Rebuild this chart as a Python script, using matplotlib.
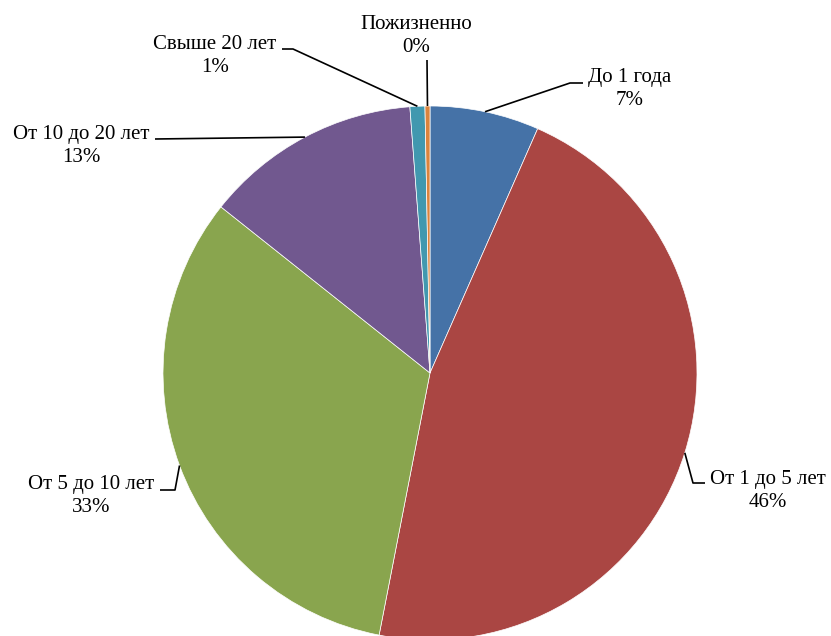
import numpy as np
import matplotlib.pyplot as plt

# shares of sentence lengths (percent)
labels = ["До 1 года", "От 1 до 5 лет", "От 5 до 10 лет", "От 10 до 20 лет", "Свыше 20 лет", "Пожизненно"]
values = [6.6, 46.4, 32.6, 13.1, 0.9, 0.3]
colors = ["#4572A7", "#AA4643", "#89A54E", "#71588F", "#4198AF", "#DB843D"]

W, H = 831, 636
cx, cy, r = 430, 373, 267

# label block centre and elbow of the leader line (pixels, y down)
label_pos = [(630, 89), (768, 491), (91, 496), (81, 146), (215, 56), (416, 36)]
elbows = [[(570, 83), (583, 83)], [(693, 483), (705, 483)], [(175, 490), (160, 490)],
          [(155, 139)], [(293, 49), (282, 49)], [(427, 60)]]

plt.rcParams['font.family'] = ['Liberation Serif', 'DejaVu Serif']

fig = plt.figure(figsize=(W / 100, H / 100), dpi=100)
ax = fig.add_axes([0, 0, 1, 1])

ax.pie(values, colors=colors, startangle=90, counterclock=False,
       center=(cx, H - cy), radius=r,
       wedgeprops=dict(edgecolor="white", linewidth=0.5))
# pie() resets the limits, so set them afterwards
ax.set_xlim(0, W)
ax.set_ylim(0, H)
ax.axis("off")

total = sum(values)
pcts = [round(v / total * 100) for v in values]
cum = np.cumsum([0] + values[:-1])
for i, lab in enumerate(labels):
    mid = (cum[i] + values[i] / 2) / total * 2 * np.pi
    ax_x = cx + r * np.sin(mid)
    ax_y = cy - r * np.cos(mid)
    pts = [(ax_x, ax_y)] + elbows[i]
    ax.plot([p[0] for p in pts], [H - p[1] for p in pts], color="black", lw=1.2,
            solid_capstyle="butt")
    tx, ty = label_pos[i]
    ax.text(tx, H - ty, f"{lab}\n{pcts[i]}%", ha="center", va="center",
            fontsize=15, linespacing=1.35)

fig.savefig("out.png", dpi=100)
